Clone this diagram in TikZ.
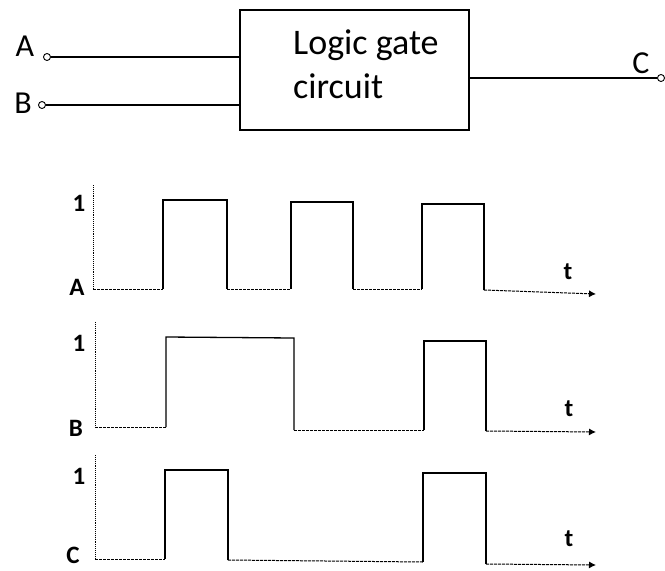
\documentclass[tikz,border=0pt]{standalone}
\usepackage{fontspec}
\setmainfont{Carlito}
\usetikzlibrary{arrows.meta}
\begin{document}
\begin{tikzpicture}[x=1pt,y=-1pt,
  wire/.style={line width=1.1pt},
  term/.style={circle,draw,line width=0.9pt,fill=white,inner sep=0pt,minimum size=7pt},
  gatebox/.style={draw,line width=1.4pt,minimum width=229pt,minimum height=120pt},
  sig/.style={font=\fontsize{32}{34}\selectfont,inner sep=0pt},
  wl/.style={font=\bfseries\fontsize{25}{27}\selectfont,inner sep=0pt},
  axisline/.style={line width=0.9pt,densely dotted},
  lowline/.style={line width=1pt,dash pattern=on 3pt off 1pt},
  pulse/.style={line width=1.3pt},
  tarrow/.style={line width=1pt,dash pattern=on 3pt off 1pt,-{Latex[length=7pt,width=7pt]}}]
\useasboundingbox (0,0) rectangle (665,571);
% ---- block diagram ----
\node[gatebox] (box) at (354.5,70) {};
\node[font=\fontsize{36}{44}\selectfont,align=left,anchor=north west,inner sep=0pt] (txt) at (293,30) {Logic gate\\circuit};
\node[term] (ta) at (47,57) {};
\node[term] (tb) at (42,105) {};
\node[term] (tc) at (661,78) {};
\node[sig] (la) at (25,46) {A};
\node[sig] (lb) at (23,103) {B};
\node[sig] (lc) at (641,63) {C};
\draw[wire] (ta.east) -- (ta.east -| box.west);
\draw[wire] (tb.east) -- (tb.east -| box.west);
\draw[wire] (box.east |- tc.west) -- (tc.west);
% ---- waveform A ----
\node[wl] (a1) at (79,203) {1};
\node[wl] (aA) at (77,287) {A};
\node[wl] (at) at (568,272) {t};
\coordinate (ab) at (93,289);
\draw[axisline] (93,185) -- (ab);
\draw[lowline] (ab) -- (163,289);
\draw[pulse] (163,289) -- (163,200) -- (227,200) -- (227,289);
\draw[lowline] (227,289) -- (291,289);
\draw[pulse] (291,289) -- (291,202) -- (353,202) -- (353,289);
\draw[lowline] (353,289) -- (422,289);
\draw[pulse] (422,289) -- (422,204) -- (484,204) -- (484,290);
\coordinate (ae) at (596,294);
\draw[tarrow] (484,290) -- (ae);
% ---- waveform B ----
\node[wl] (b1) at (79,343) {1};
\node[wl] (bB) at (76,428) {B};
\node[wl] (bt) at (569,409) {t};
\coordinate (bb) at (95,427);
\draw[axisline] (95,322) -- (bb);
\draw[lowline] (bb) -- (166,427);
\draw[pulse] (166,427) -- (166,337) -- (294,338) -- (294,430);
\draw[lowline] (294,430) -- (424,430);
\draw[pulse] (424,430) -- (424,341) -- (486,341) -- (486,431);
\coordinate (be) at (596,432);
\draw[tarrow] (486,431) -- (be);
% ---- waveform C ----
\node[wl] (c1) at (79,476) {1};
\node[wl] (cC) at (73,555) {C};
\node[wl] (ct) at (569,539) {t};
\coordinate (cb) at (95,559);
\draw[axisline] (95,455) -- (cb);
\draw[lowline] (cb) -- (165,559);
\draw[pulse] (165,559) -- (165,470) -- (228,470) -- (228,560);
\draw[lowline] (228,560) -- (423,562);
\draw[pulse] (423,562) -- (423,473) -- (486,473) -- (486,564);
\coordinate (ce) at (596,565);
\draw[tarrow] (486,564) -- (ce);
\end{tikzpicture}
\end{document}
